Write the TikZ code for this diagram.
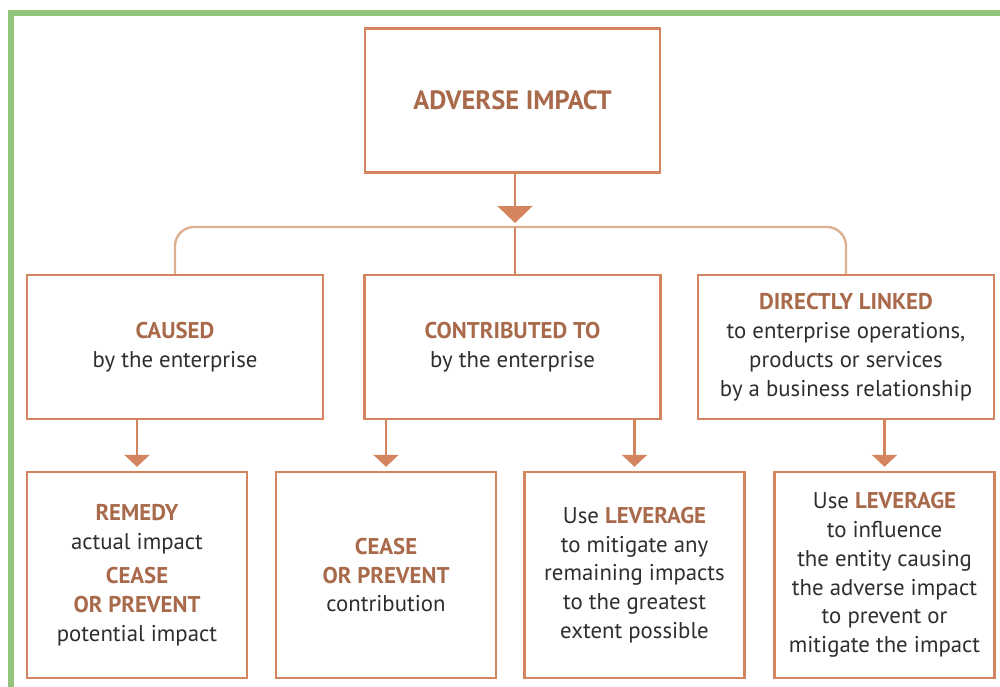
\documentclass[tikz,border=0pt]{standalone}
\usepackage{fontspec}
\setmainfont{PT Sans}
\usetikzlibrary{arrows.meta}
\definecolor{boxc}{HTML}{D4845E}
\definecolor{busc}{HTML}{DDB092}
\definecolor{boldc}{HTML}{A86A4B}
\definecolor{txtc}{HTML}{2E2E2E}
\definecolor{greenc}{HTML}{93C47D}
\tikzset{
  box/.style={draw=boxc, line width=2.4pt, align=center, inner sep=0pt,
    text=txtc, font=\fontsize{22.8}{28.8}\selectfont},
  lvtwo/.style={box, minimum width=296pt, minimum height=144pt},
  lvthree/.style={box, minimum width=220pt, minimum height=206pt},
  arr/.style={draw=boxc, line width=2.4pt, -{Triangle[width=25pt,length=12pt]}, shorten >=4pt},
  bigarr/.style={draw=boxc, line width=2.4pt, -{Triangle[width=35pt,length=17pt]}, shorten >=4pt},
  bus/.style={draw=busc, line width=2.4pt, rounded corners=19pt},
}
\newcommand{\bw}[1]{\textcolor{boldc}{\textbf{#1}}}
\begin{document}
\begin{tikzpicture}[x=1pt,y=-1pt]
\useasboundingbox (0,0) rectangle (1000,686);
\draw[greenc, line width=6pt] (11,689) -- (11,13) -- (1003,13);

\node[box, minimum width=295pt, minimum height=144pt, font=\fontsize{26.5}{30}\selectfont] (top) at (512.5,100.5) {\bw{ADVERSE IMPACT}};

\node[lvtwo] (caused) at (175,347) {\bw{CAUSED}\\by the enterprise};
\node[lvtwo] (contrib) at (512.5,347) {\bw{CONTRIBUTED TO}\\by the enterprise};
\node[lvtwo] (linked) at (846,347) {\bw{DIRECTLY LINKED}\\to enterprise operations,\\products or services\\by a business relationship};

\node[lvthree] (remedy) at (137,575) {\bw{REMEDY}\\actual impact\\[6pt]\bw{CEASE}\\\bw{OR PREVENT}\\potential impact};
\node[lvthree] (cease) at (386,575) {\bw{CEASE}\\\bw{OR PREVENT}\\contribution};
\node[lvthree] (levA) at (634.5,575) {Use \bw{LEVERAGE}\\to mitigate any\\remaining impacts\\to the greatest\\extent possible};
\node[lvthree] (levB) at (884.5,575) {Use \bw{LEVERAGE}\\to influence\\the entity causing\\the adverse impact\\to prevent or\\mitigate the impact};

\coordinate (busmid) at (515,227);
\draw[bus] (caused.north) -- (caused.north |- busmid) -- (linked.north |- busmid) -- (linked.north);
\draw[bigarr] (top.south -| busmid) -- (busmid);
\draw[draw=boxc, line width=2.4pt] (busmid) -- (busmid |- contrib.north);

\draw[arr] (remedy.north |- caused.south) -- (remedy.north);
\draw[arr] (cease.north |- contrib.south) -- (cease.north);
\draw[arr] (levA.north |- contrib.south) -- (levA.north);
\draw[arr] (levB.north |- linked.south) -- (levB.north);
\end{tikzpicture}
\end{document}
